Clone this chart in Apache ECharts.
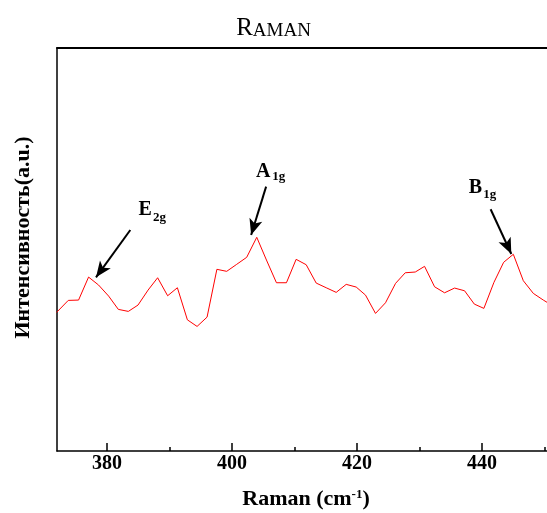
<!DOCTYPE html>
<html>
<head>
<meta charset="utf-8">
<script src="https://cdn.jsdelivr.net/npm/echarts@6/dist/echarts.min.js"></script>
<style>
  html, body { margin: 0; padding: 0; background: #fff; }
  #chart { width: 547px; height: 513px; }
</style>
</head>
<body>
<div id="chart"></div>
<script>
// Raman spectrum, values (a.u.)
var ramanShift = [371.93, 373.80, 375.45, 377.05, 378.65, 380.26, 381.81, 383.41, 384.96, 386.57,
  388.10, 389.70, 391.26, 392.86, 394.41, 396.01, 397.58, 399.15, 400.75, 402.35,
  403.96, 405.51, 407.11, 408.71, 410.26, 411.87, 413.47, 415.07, 416.67, 418.27,
  419.87, 421.36, 422.96, 424.56, 426.17, 427.72, 429.32, 430.81, 432.41, 434.01,
  435.61, 437.21, 438.77, 440.30, 441.91, 443.46, 445.01, 446.61, 448.21, 449.81, 451.40];
var intensity = [343.9, 373.7, 374.5, 431.6, 411.8, 384.4, 351.4, 346.4, 362.1, 399.3,
  429.9, 385.2, 405.1, 325.5, 309.1, 332.2, 450.8, 445.8, 463.2, 480.6,
  530.3, 473.9, 417.5, 417.5, 475.6, 462.2, 416.7, 405.1, 393.6, 413.5,
  406.8, 386.9, 341.4, 367.8, 416.0, 442.3, 444.1, 458.2, 407.5, 392.6,
  404.3, 397.6, 364.5, 353.9, 418.5, 468.2, 488.1, 422.5, 391.1, 374.5, 359.6];

var majorTicks = [380, 400, 420, 440];
var minorTicks = [390, 410, 430, 450];

// peak notes (data coords): name, subscript, label centre, subscript centre, arrow tail, arrow tip
var peakNames = ['E', 'A', 'B'];
var peakSubs = ['2g', '1g', '1g'];
var labelAt = [[386.10, 598.1], [404.98, 693.6], [438.94, 652.2]];
var subAt = [[388.41, 579.3], [407.46, 681.1], [441.22, 635.7]];
var arrowFrom = [[383.73, 548.4], [405.46, 656.0], [441.38, 599.9]];
var arrowTo = [[378.24, 430.9], [403.06, 536.0], [444.69, 488.8]];

var serif = 'Liberation Serif';

var spectrum = ramanShift.map(function (x, i) { return [x, intensity[i]]; });

var noteData = [];
peakNames.forEach(function (n, i) {
  noteData.push({ value: labelAt[i], label: { formatter: n, fontSize: 20 } });
  noteData.push({ value: subAt[i], label: { formatter: peakSubs[i], fontSize: 13 } });
});

var arrows = arrowFrom.map(function (p, i) {
  return [{ coord: p }, { coord: arrowTo[i] }];
});

var chart = echarts.init(document.getElementById('chart'), null, { renderer: 'canvas' });

chart.setOption({
  animation: false,
  backgroundColor: '#fff',
  title: {
    text: '{a|R}{b|AMAN}',
    left: 'center',
    top: 11,
    textStyle: {
      fontWeight: 'normal',
      rich: {
        a: { fontFamily: serif, fontWeight: 'normal', fontSize: 25, lineHeight: 25, verticalAlign: 'bottom', color: '#000' },
        b: { fontFamily: serif, fontWeight: 'normal', fontSize: 19, lineHeight: 25, verticalAlign: 'bottom', color: '#000' }
      }
    }
  },
  grid: { left: 57, right: 0, top: 48, bottom: 62, outerBoundsMode: 'none', containLabel: false },
  xAxis: [
    {
      type: 'value',
      position: 'bottom',
      min: 372,
      max: 450.4,
      axisLine: { show: true, lineStyle: { color: '#000', width: 1.5 } },
      axisTick: { show: true, inside: true, length: 8, customValues: majorTicks, lineStyle: { color: '#000', width: 1.5 } },
      axisLabel: { customValues: majorTicks, color: '#000', fontFamily: serif, fontWeight: 'bold', fontSize: 20, margin: 3 },
      splitLine: { show: false },
      name: '{n|Raman (cm}{s|-1}{n|)}',
      nameLocation: 'middle',
      nameGap: 37,
      nameTextStyle: {
        padding: [0, 0, 0, 8],
        rich: {
          n: { fontFamily: serif, fontWeight: 'bold', fontSize: 22, lineHeight: 22, verticalAlign: 'bottom', color: '#000' },
          s: { fontFamily: serif, fontWeight: 'bold', fontSize: 13, lineHeight: 13, verticalAlign: 'top', color: '#000' }
        }
      }
    },
    {
      type: 'value',
      position: 'bottom',
      min: 372,
      max: 450.4,
      axisLine: { show: false },
      axisTick: { show: true, inside: true, length: 4, customValues: minorTicks, lineStyle: { color: '#000', width: 1.5 } },
      axisLabel: { show: false },
      splitLine: { show: false }
    },
    {
      type: 'value',
      position: 'top',
      min: 372,
      max: 450.4,
      axisLine: { show: true, lineStyle: { color: '#000', width: 2 } },
      axisTick: { show: false },
      axisLabel: { show: false },
      splitLine: { show: false }
    }
  ],
  yAxis: {
    type: 'value',
    min: 0,
    max: 1000,
    axisLine: { show: true, lineStyle: { color: '#000', width: 1.5 } },
    axisTick: { show: false },
    axisLabel: { show: false },
    splitLine: { show: false },
    name: 'Интенсивность(a.u.)',
    nameLocation: 'middle',
    nameGap: 23,
    nameTextStyle: { fontFamily: serif, fontWeight: 'bold', fontSize: 22, color: '#000', padding: [0, 0, 0, 24] }
  },
  series: [
    {
      type: 'line',
      data: spectrum,
      showSymbol: false,
      symbol: 'none',
      clip: true,
      lineStyle: { color: '#ff0000', width: 1 }
    },
    {
      type: 'scatter',
      data: noteData,
      symbolSize: 0,
      silent: true,
      itemStyle: { opacity: 1 },
      label: {
        show: true,
        position: 'inside',
        color: '#000',
        opacity: 1,
        fontFamily: serif,
        fontWeight: 'bold'
      },
      markLine: {
        silent: true,
        symbol: ['none', 'arrow'],
        symbolSize: [10, 16],
        label: { show: false },
        lineStyle: { color: '#000', width: 2, type: 'solid', opacity: 1 },
        data: arrows
      }
    }
  ]
});
</script>
</body>
</html>
